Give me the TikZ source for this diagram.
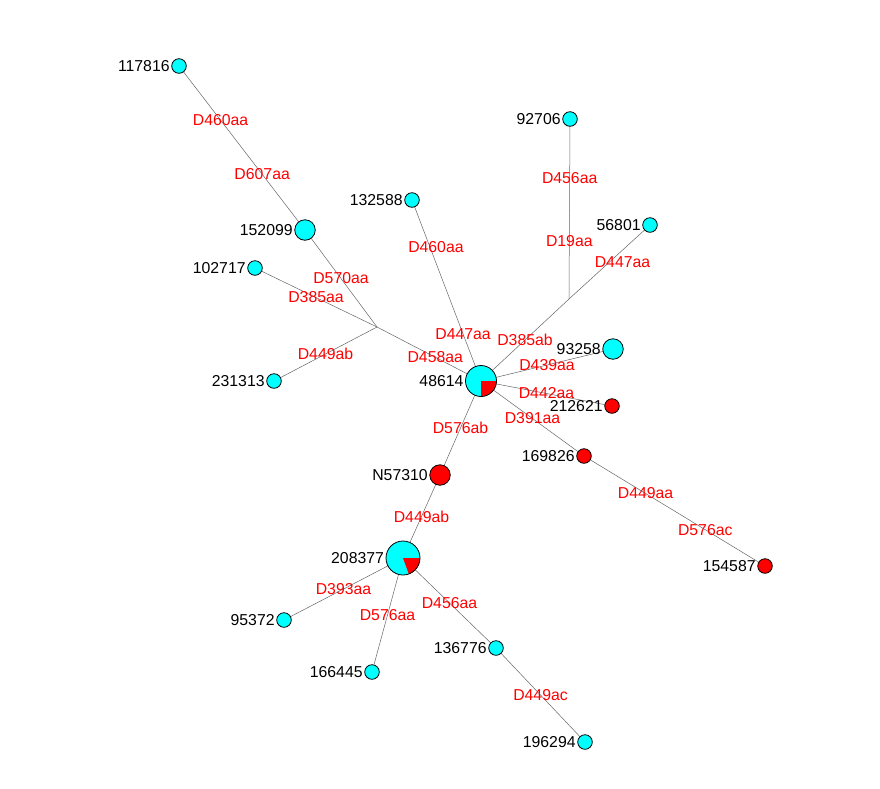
\documentclass[tikz,border=0pt]{standalone}
\usepackage{fontspec}
\setmainfont{Liberation Sans}
\usetikzlibrary{backgrounds}
\definecolor{hapcyan}{RGB}{0,255,255}
\definecolor{hapred}{RGB}{255,0,0}
\tikzset{
  hap/.style={draw, circle, fill=hapcyan, inner sep=0pt, line width=0.8pt, minimum size=14.6pt},
  mid/.style={hap, minimum size=20.5pt},
  big/.style={hap, minimum size=31pt},
  huge/.style={hap, minimum size=34pt},
  bad/.style={fill=hapred},
  lbl/.style={font=\fontsize{15.8}{18}\selectfont, inner sep=1.5pt},
  mut/.style={font=\fontsize{15.8}{18}\selectfont, text=hapred, inner sep=0pt},
  lnk/.style={draw, gray!80!black, line width=0.5pt},
  redpart/.style={path picture={\fill[hapred] (path picture bounding box.center) -- ++(0:20pt)
      arc[start angle=0, end angle=#1, radius=20pt] -- cycle;}}
}
\begin{document}
\begin{tikzpicture}[x=1pt, y=-1pt]
        \useasboundingbox (0,0) rectangle (880,788);
        \node[hap, label={[lbl]left:117816}] (117816) at (179,66) {};
        \node[mid, label={[lbl]left:152099}] (152099) at (305,230) {};
        \node[hap, label={[lbl]left:102717}] (102717) at (255,268) {};
        \node[hap, label={[lbl]left:231313}] (231313) at (274,381) {};
        \node[hap, label={[lbl]left:132588}] (132588) at (412,200) {};
        \node[hap, label={[lbl]left:92706}] (92706) at (570,119) {};
        \node[hap, label={[lbl]left:56801}] (56801) at (650,225) {};
        \node[mid, label={[lbl]left:93258}] (93258) at (613,349) {};
        \node[big, redpart=-90, label={[lbl]left:48614}] (48614) at (481,381) {};
        \node[hap, bad, label={[lbl]left:212621}] (212621) at (612,406) {};
        \node[hap, bad, label={[lbl]left:169826}] (169826) at (584,456) {};
        \node[hap, bad, label={[lbl]left:154587}] (154587) at (765,566) {};
        \node[mid, bad, label={[lbl]left:N57310}] (N57310) at (440,475) {};
        \node[huge, redpart=-70, label={[lbl]left:208377}] (208377) at (403,558) {};
        \node[hap, label={[lbl]left:95372}] (95372) at (284,620) {};
        \node[hap, label={[lbl]left:166445}] (166445) at (372,672) {};
        \node[hap, label={[lbl]left:136776}] (136776) at (496,648) {};
        \node[hap, label={[lbl]left:196294}] (196294) at (585,742) {};
        \coordinate (j1) at (377,327);
        \coordinate (j2) at (569,299);
        % edges with mutations, behind the circles
        \begin{scope}[on background layer]
        \path[lnk] (117816.center) -- node[mut, pos=0.33] {D460aa} node[mut, pos=0.66] {D607aa} (152099.center);
        \path[lnk] (152099.center) -- node[mut] {D570aa} (j1);
        \path[lnk] (102717.center) -- node[mut] {D385aa} (j1);
        \path[lnk] (231313.center) -- node[mut] {D449ab} (j1);
        \path[lnk] (j1) -- node[mut, pos=0.56] {D458aa} (48614.center);
        \path[lnk] (132588.center) -- node[mut, pos=0.26, xshift=6] {D460aa} node[mut, pos=0.74] {D447aa} (48614.center);
        \path[lnk] (92706.center) -- node[mut, pos=0.33] {D456aa} node[mut, pos=0.68] {D19aa} (j2);
        \path[lnk] (56801.center) -- node[mut, xshift=13] {D447aa} (j2);
        \path[lnk] (j2) -- node[mut] {D385ab} (48614.center);
        \path[lnk] (48614.center) -- node[mut] {D439aa} (93258.center);
        \path[lnk] (48614.center) -- node[mut] {D442aa} (212621.center);
        \path[lnk] (48614.center) -- node[mut] {D391aa} (169826.center);
        \path[lnk] (169826.center) -- node[mut, pos=0.34] {D449aa} node[mut, pos=0.67] {D576ac} (154587.center);
        \path[lnk] (48614.center) -- node[mut] {D576ab} (N57310.center);
        \path[lnk] (N57310.center) -- node[mut] {D449ab} (208377.center);
        \path[lnk] (208377.center) -- node[mut] {D393aa} (95372.center);
        \path[lnk] (208377.center) -- node[mut] {D576aa} (166445.center);
        \path[lnk] (208377.center) -- node[mut] {D456aa} (136776.center);
        \path[lnk] (136776.center) -- node[mut] {D449ac} (196294.center);
        \end{scope}
    \end{tikzpicture}
\end{document}
